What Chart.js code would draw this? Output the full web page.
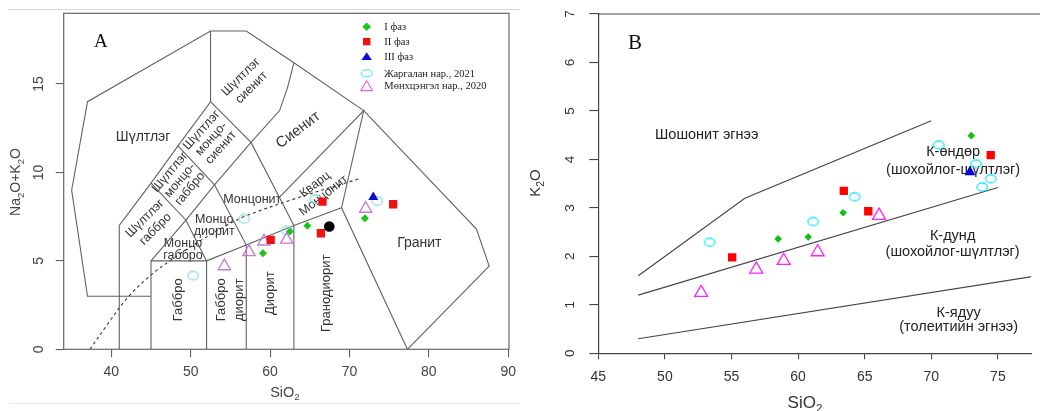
<!DOCTYPE html>
<html>
<head>
<meta charset="utf-8">
<script src="https://cdn.jsdelivr.net/npm/chart.js@4.4.0/dist/chart.umd.min.js"></script>
<style>
  html, body { margin: 0; padding: 0; background: #fff; }
  #wrap { position: relative; width: 1040px; height: 411px; overflow: hidden; }
  canvas { position: absolute; top: 0; }
  #tas { left: 0; }
  #kali { left: 520px; }
</style>
</head>
<body>
<div id="wrap">
  <canvas id="tas" width="520" height="411"></canvas>
  <canvas id="kali" width="520" height="411"></canvas>
</div>
<script>
// ---------- A: TAS (SiO2 vs Na2O+K2O) ----------
const tasSiTicks = [40, 50, 60, 70, 80, 90];
const tasAlkTicks = [0, 5, 10, 15];

const phase1A   = [[59.1, 5.43], [62.5, 6.66], [64.7, 6.98], [71.95, 7.41]];
const phase2A   = [[60.07, 6.19], [66.6, 8.35], [66.4, 6.56], [75.5, 8.2]];
const phase3A   = [[73.0, 8.6]];
const jargalanA = [[50.3, 4.17], [56.75, 7.38], [62.1, 6.72], [65.7, 8.5], [73.5, 8.38]];
const munkhA    = [[54.24, 4.7], [57.34, 5.5], [59.23, 6.1], [62.09, 6.2], [72.04, 7.95]];
const extraA    = [[67.46, 6.94]];

// field boundaries
const tasOutline   = [[45, 3], [37, 3], [35, 9], [37, 14], [52.5, 18], [57, 18], [63, 16.2], [71.8, 13.5], [86, 6.8], [87.6, 4.7], [77.3, 0]];
const tasFoidEdge  = [[41, 0], [41, 7], [45, 9.4], [48.4, 11.5], [52.5, 14], [52.5, 18]];
const tasGabbro    = [[45, 0], [45, 5], [52, 5], [52, 0]];
const tasAlkEdge   = [[45, 5], [49.4, 7.3], [53, 9.3], [57.6, 11.7], [61.2, 13.5], [62.2, 14.8], [63, 16.2]];
const tasCross1    = [[45, 9.4], [49.4, 7.3], [52, 5]];
const tasCross2    = [[48.4, 11.5], [53, 9.3], [57, 5.9]];
const tasCross3    = [[52.5, 14], [57.6, 11.7], [63, 7]];
const tasSubBase   = [[52, 5], [57, 5.9], [63, 7], [69, 8]];
const tasDiorite   = [[57, 0], [57, 5.9]];
const tasGranodior = [[63, 0], [63, 7]];
const tasQzMonz    = [[61.2, 8.6], [71.8, 13.5], [69, 8], [77.3, 0]];
const tasDivide    = [[37.3, 0], [39.5, 1.4], [42, 2.9], [45, 4.2], [48, 5.2], [50.7, 6.0], [54.5, 7.0], [57, 7.55], [63.7, 8.6], [71.3, 9.65]];

const tasFieldNames = [
  ['Шүлтлэг'], ['Шүлтлэг', 'сиенит'], ['Шүлтлэг', 'монцо-', 'сиенит'], ['Сиенит'],
  ['Шүлтлэг', 'монцо-', 'габбро'], ['Шүлтлэг', 'габбро'], ['Монцонит'], ['Кварц', 'Монцонит'],
  ['Монцо', 'диорит'], ['Монцо', 'габбро'], ['Габбро'], ['Габбро', 'диорит'],
  ['Диорит'], ['Гранодиорит'], ['Гранит']
];
// anchor (SiO2, alkali), rotation, font size, line height
const tasFieldLayout = [
  [44.0, 12.0, 0, 14, 0], [57.0, 15.1, -45, 12.5, 15], [52.6, 11.9, -48, 12.5, 13], [63.55, 12.4, -37, 15, 0],
  [48.65, 9.55, -50, 12.5, 13], [44.9, 7.1, -45, 12.5, 15], [57.76, 8.49, 0, 12.5, 0], [66.2, 9.0, -38, 12.5, 14],
  [52.96, 7.0, 0, 12.5, 11.5], [49.03, 5.63, 0, 12.5, 11.7], [48.44, 2.8, -90, 13, 0], [54.95, 2.8, -90, 13, 18],
  [60.07, 3.17, -90, 13, 0], [67.13, 3.17, -90, 13, 0], [78.8, 6.0, 0, 14, 0]
];

const legendNames = ['I фаз', 'II фаз', 'III фаз', 'Жаргалан нар., 2021', 'Мөнхцэнгэл нар., 2020'];

// ---------- B: SiO2 vs K2O ----------
const kSiTicks = [45, 50, 55, 60, 65, 70, 75];
const kTicks = [0, 1, 2, 3, 4, 5, 6, 7];

const phase1B   = [[58.5, 2.36], [60.76, 2.40], [63.38, 2.90], [73.0, 4.49]];
const phase2B   = [[55.05, 1.98], [63.43, 3.35], [65.27, 2.93], [74.46, 4.09]];
const phase3B   = [[72.9, 3.74]];
const jargalanB = [[53.36, 2.29], [61.13, 2.72], [64.24, 3.23], [70.56, 4.30], [73.36, 3.91], [74.46, 3.60], [73.82, 3.43]];
const munkhB    = [[52.72, 1.25], [56.86, 1.73], [58.92, 1.91], [61.47, 2.09], [66.08, 2.84]];

const shoshoniteLine = [[48, 1.6], [56, 3.2], [70, 4.8]];
const highKLine = [[48, 1.2], [75, 3.42]];
const lowKLine = [[48, 0.3], [78, 1.6]];

const kSeriesNames = [['Шошонит эгнээ'], ['К-өндөр', '(шохойлог-шүлтлэг)'], ['К-дунд', '(шохойлог-шүлтлэг)'], ['К-ядуу', '(толеитийн эгнээ)']];
const kSeriesLayout = [[53.14, 4.51, 14.5, 0], [71.64, 3.97, 14.5, 18.5], [71.6, 2.26, 14.5, 16], [72.05, 0.69, 14.5, 14]];

// ---------- helpers ----------
const SANS = '"Liberation Sans", Arial, sans-serif';
const SERIF = '"Liberation Serif", "Times New Roman", serif';
const pts = arr => arr.map(([x, y]) => ({ x, y }));

function ring(color, w, h, lw) {
  const c = document.createElement('canvas');
  c.width = w + 4; c.height = h + 4;
  const g = c.getContext('2d');
  g.strokeStyle = color; g.lineWidth = lw;
  g.beginPath();
  g.ellipse(c.width / 2, c.height / 2, w / 2, h / 2, 0, 0, Math.PI * 2);
  g.stroke();
  return c;
}

function boundary(arr, color, width, dash) {
  return {
    data: pts(arr), showLine: true, pointRadius: 0, borderColor: color,
    borderWidth: width, borderDash: dash || [], fill: false, tension: 0, order: 5
  };
}

function markers(arr, style, r, fill, stroke, bw) {
  return {
    data: pts(arr), pointStyle: style, pointRadius: r, backgroundColor: fill,
    borderColor: stroke, borderWidth: bw, order: 1
  };
}

function textBlock(ctx, lines, x, y, deg, size, lh, font) {
  ctx.save();
  ctx.translate(x, y);
  ctx.rotate(deg * Math.PI / 180);
  ctx.font = size + 'px ' + font;
  ctx.textAlign = 'center';
  ctx.textBaseline = 'middle';
  lines.forEach((t, i) => ctx.fillText(t, 0, (i - (lines.length - 1) / 2) * lh));
  ctx.restore();
}

// text with subscripts, parts = [[text, isSub], ...]
function richText(ctx, parts, x, y, size, deg) {
  ctx.save();
  ctx.translate(x, y);
  ctx.rotate(deg * Math.PI / 180);
  const f = s => (s ? size * 0.68 : size) + 'px ' + SANS;
  let w = 0;
  parts.forEach(([t, s]) => { ctx.font = f(s); w += ctx.measureText(t).width; });
  let cx = -w / 2;
  ctx.textAlign = 'left';
  ctx.textBaseline = 'middle';
  parts.forEach(([t, s]) => {
    ctx.font = f(s);
    ctx.fillText(t, cx, s ? size * 0.32 : 0);
    cx += ctx.measureText(t).width;
  });
  ctx.restore();
}

function legendMark(ctx, kind, x, y) {
  ctx.save();
  ctx.beginPath();
  if (kind === 0) {
    ctx.fillStyle = '#18c818';
    ctx.moveTo(x, y - 4.3); ctx.lineTo(x + 4.3, y); ctx.lineTo(x, y + 4.3); ctx.lineTo(x - 4.3, y);
    ctx.closePath(); ctx.fill();
  } else if (kind === 1) {
    ctx.fillStyle = '#f01010';
    ctx.rect(x - 3.7, y - 3.7, 7.4, 7.4); ctx.fill();
  } else if (kind === 2) {
    ctx.fillStyle = '#0a0ae0';
    ctx.moveTo(x, y - 4.5); ctx.lineTo(x + 5.2, y + 3.3); ctx.lineTo(x - 5.2, y + 3.3);
    ctx.closePath(); ctx.fill();
  } else if (kind === 3) {
    ctx.strokeStyle = '#2ee6f0'; ctx.lineWidth = 1;
    ctx.ellipse(x, y, 5.6, 3.6, 0, 0, Math.PI * 2); ctx.stroke();
  } else {
    ctx.strokeStyle = '#f030f0'; ctx.lineWidth = 1;
    ctx.moveTo(x, y - 5.5); ctx.lineTo(x + 6, y + 4.5); ctx.lineTo(x - 6, y + 4.5);
    ctx.closePath(); ctx.stroke();
  }
  ctx.restore();
}

// ---------- chart A ----------
const tasLabels = {
  id: 'tasLabels',
  beforeDatasetsDraw(chart) {
    const { ctx, scales: { x, y } } = chart;
    ctx.save();
    ctx.fillStyle = '#333';
    tasFieldNames.forEach((lines, i) => {
      const [sx, sy, deg, size, lh] = tasFieldLayout[i];
      textBlock(ctx, lines, x.getPixelForValue(sx), y.getPixelForValue(sy), deg, size, lh, SANS);
    });
    ctx.restore();
  },
  afterDraw(chart) {
    const { ctx, chartArea: a, scales: { x, y } } = chart;
    ctx.save();
    // page rules above and below the plot
    ctx.strokeStyle = '#d4d4d4'; ctx.lineWidth = 1;
    ctx.beginPath(); ctx.moveTo(9, 9.5); ctx.lineTo(520, 9.5); ctx.stroke();
    ctx.strokeStyle = '#ececec';
    ctx.beginPath(); ctx.moveTo(9, 403.5); ctx.lineTo(520, 403.5); ctx.stroke();
    // frame
    ctx.strokeStyle = '#666'; ctx.lineWidth = 1.2;
    ctx.strokeRect(a.left, a.top, a.right - a.left, a.bottom - a.top);
    // tick labels
    ctx.fillStyle = '#444';
    tasSiTicks.forEach(v => textBlock(ctx, [String(v)], x.getPixelForValue(v), a.bottom + 22.5, 0, 14, 0, SANS));
    tasAlkTicks.forEach(v => textBlock(ctx, [String(v)], 39.5, y.getPixelForValue(v), -90, 14, 0, SANS));
    // axis titles
    richText(ctx, [['SiO', 0], ['2', 1]], 285, 393, 14.5, 0);
    richText(ctx, [['Na', 0], ['2', 1], ['O+K', 0], ['2', 1], ['O', 0]], 16.5, 182, 14, -90);
    // panel letter
    ctx.fillStyle = '#111';
    textBlock(ctx, ['A'], 100.8, 42.5, 0, 19, 0, SERIF);
    // legend
    const rows = [26.7, 41.6, 56.8, 73.3, 86.2];
    ctx.fillStyle = '#222';
    legendNames.forEach((name, i) => {
      legendMark(ctx, i, 366.7, rows[i]);
      ctx.font = '10.5px ' + SERIF;
      ctx.textAlign = 'left'; ctx.textBaseline = 'middle';
      ctx.fillText(name, 384.3, rows[i] + 0.5);
    });
    ctx.restore();
  }
};

const gray = '#626262';
new Chart(document.getElementById('tas'), {
  type: 'scatter',
  data: {
    datasets: [
      markers(phase1A, 'rectRot', 4, '#1cc41c', '#1cc41c', 0),
      markers(phase2A, 'rect', 5.9, '#ee1111', '#ee1111', 0),
      markers(phase3A, 'triangle', 5.8, '#0a0ad8', '#0a0ad8', 0),
      markers(extraA, 'circle', 5.3, '#000', '#000', 0),
      markers(munkhA, 'triangle', 7.1, 'rgba(0,0,0,0)', '#c878d0', 1.3),
      markers(jargalanA, ring('#8ee0e8', 10.5, 8.5, 1.3), 5, 'rgba(0,0,0,0)', '#8ee0e8', 0),
      boundary(tasOutline, gray, 1.1),
      boundary(tasFoidEdge, gray, 1.1),
      boundary(tasGabbro, gray, 1.1),
      boundary(tasAlkEdge, gray, 1.1),
      boundary(tasCross1, gray, 1.1),
      boundary(tasCross2, gray, 1.1),
      boundary(tasCross3, gray, 1.1),
      boundary(tasSubBase, gray, 1.1),
      boundary(tasDiorite, gray, 1.1),
      boundary(tasGranodior, gray, 1.1),
      boundary(tasQzMonz, gray, 1.1),
      Object.assign(boundary(tasDivide, '#333', 1.1, [3, 3]), { tension: 0.35 })
    ]
  },
  options: {
    responsive: false,
    animation: false,
    events: [],
    layout: { padding: { top: 13.3, right: 11, left: 0, bottom: 0 } },
    plugins: { legend: { display: false }, tooltip: { enabled: false } },
    scales: {
      x: {
        type: 'linear', min: 34, max: 90.1,
        afterBuildTicks: s => { s.ticks = tasSiTicks.map(v => ({ value: v })); },
        afterFit: s => { s.height = 411 - 349.3; },
        ticks: { display: false },
        border: { display: false },
        grid: { drawOnChartArea: false, drawTicks: true, tickLength: 8, color: gray, lineWidth: 1.1 }
      },
      y: {
        type: 'linear', min: 0, max: 19,
        afterBuildTicks: s => { s.ticks = tasAlkTicks.map(v => ({ value: v })); },
        afterFit: s => { s.width = 63.7; },
        ticks: { display: false },
        border: { display: false },
        grid: { drawOnChartArea: false, drawTicks: true, tickLength: 8, color: gray, lineWidth: 1.1 }
      }
    }
  },
  plugins: [tasLabels]
});

// ---------- chart B ----------
const kLabels = {
  id: 'kLabels',
  beforeDatasetsDraw(chart) {
    const { ctx, scales: { x, y } } = chart;
    ctx.save();
    ctx.fillStyle = '#222';
    kSeriesNames.forEach((lines, i) => {
      const [sx, sy, size, lh] = kSeriesLayout[i];
      textBlock(ctx, lines, x.getPixelForValue(sx), y.getPixelForValue(sy), 0, size, lh, SANS);
    });
    ctx.restore();
  },
  afterDraw(chart) {
    const { ctx, chartArea: a, scales: { x, y } } = chart;
    ctx.save();
    ctx.strokeStyle = '#444'; ctx.lineWidth = 1.2;
    ctx.beginPath(); ctx.moveTo(a.left, a.top); ctx.lineTo(520, a.top); ctx.stroke();
    ctx.fillStyle = '#333';
    kSiTicks.forEach(v => textBlock(ctx, [String(v)], x.getPixelForValue(v), a.bottom + 23.5, 0, 14, 0, SANS));
    kTicks.forEach(v => textBlock(ctx, [String(v)], 50.7, y.getPixelForValue(v), -90, 13.5, 0, SANS));
    richText(ctx, [['SiO', 0], ['2', 1]], 285, 403, 17, 0);
    richText(ctx, [['K', 0], ['2', 1], ['O', 0]], 16, 183, 15, -90);
    ctx.fillStyle = '#111';
    textBlock(ctx, ['B'], 115, 43, 0, 21, 0, SERIF);
    ctx.restore();
  }
};

const dark = '#444';
new Chart(document.getElementById('kali'), {
  type: 'scatter',
  data: {
    datasets: [
      markers(phase3B, 'triangle', 6.3, '#0000e0', '#0000e0', 0),
      markers(phase1B, 'rectRot', 3.8, '#10c010', '#10c010', 0),
      markers(phase2B, 'rect', 5.9, '#ff0000', '#ff0000', 0),
      markers(munkhB, 'triangle', 7.5, 'rgba(0,0,0,0)', '#ff22ff', 1.3),
      markers(jargalanB, ring('#18e8f8', 10.5, 8, 1.3), 5, 'rgba(0,0,0,0)', '#18e8f8', 0),
      boundary(shoshoniteLine, dark, 1.1),
      boundary(highKLine, dark, 1.1),
      boundary(lowKLine, dark, 1.1)
    ]
  },
  options: {
    responsive: false,
    animation: false,
    events: [],
    layout: { padding: { top: 14, right: 0, left: 0, bottom: 0 } },
    plugins: { legend: { display: false }, tooltip: { enabled: false } },
    scales: {
      x: {
        type: 'linear', min: 45, max: 77.5,
        afterBuildTicks: s => { s.ticks = kSiTicks.map(v => ({ value: v })); },
        afterFit: s => { s.height = 411 - 353.3; },
        ticks: { display: false },
        border: { display: true, color: dark, width: 1.2 },
        grid: { drawOnChartArea: false, drawTicks: true, tickLength: 6, color: dark, lineWidth: 1.1 }
      },
      y: {
        type: 'linear', min: 0, max: 7,
        afterBuildTicks: s => { s.ticks = kTicks.map(v => ({ value: v })); },
        afterFit: s => { s.width = 78.3; },
        ticks: { display: false },
        border: { display: true, color: dark, width: 1.2 },
        grid: { drawOnChartArea: false, drawTicks: true, tickLength: 9, color: dark, lineWidth: 1.1 }
      }
    }
  },
  plugins: [kLabels]
});
</script>
</body>
</html>
